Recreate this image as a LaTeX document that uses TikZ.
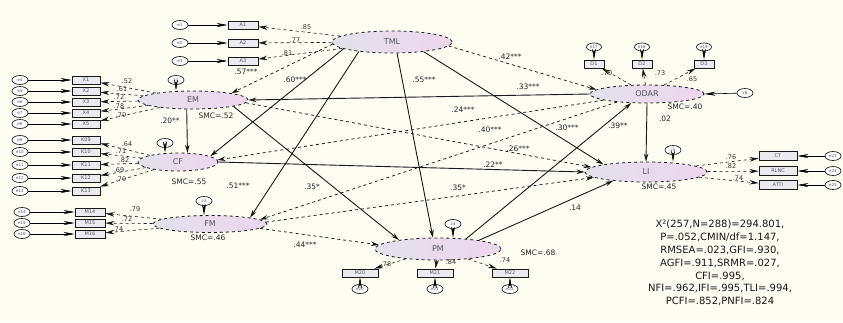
\documentclass[tikz,border=0pt]{standalone}
\usepackage{fontspec}
\setmainfont{DejaVu Sans}
\usetikzlibrary{shapes.geometric,arrows.meta}
\definecolor{bgc}{HTML}{FDFDF2}
\definecolor{latL}{HTML}{E2E2EA}
\definecolor{latR}{HTML}{EFD5EF}
\definecolor{obsF}{HTML}{EAEAF0}
\definecolor{txtg}{HTML}{555560}
\begin{document}
\begin{tikzpicture}[x=1pt,y=-1pt,
  lat/.style={ellipse, draw=black!90, dashed, line width=0.8pt, left color=latL, right color=latR, inner sep=0pt, font=\fontsize{8}{8}\selectfont, text=txtg},
  obs/.style={rectangle, draw=black!90, line width=0.8pt, fill=obsF, minimum height=8pt, inner sep=0.5pt, font=\fontsize{5}{5}\selectfont, text=txtg},
  errc/.style={ellipse, draw=black!85, line width=0.7pt, fill=white, minimum width=16pt, minimum height=9pt, inner sep=0pt, font=\fontsize{4}{4}\selectfont, text=txtg},
  earr/.style={-{Stealth[length=11pt,width=4pt]}, line width=0.6pt, black},
  ldarr/.style={-{Stealth[length=9pt,width=4.5pt]}, line width=0.6pt, dashed, black!90},
  sarr/.style={-{Stealth[length=8pt,width=4.5pt]}, line width=0.9pt, black!90},
  sdarr/.style={sarr, dashed, line width=0.75pt},
  lab/.style={font=\fontsize{7.5}{7.5}\selectfont, text=black!85, inner sep=0pt},
  ld/.style={font=\fontsize{6.5}{6.5}\selectfont, text=black!80, inner sep=0pt},
]
\fill[bgc] (0,0) rectangle (843,322);
\useasboundingbox (0,0) rectangle (843,322);

% latent variables
\node[lat, minimum width=120pt, minimum height=22pt] (TML) at (392,42) {TML};
\node[lat, minimum width=110pt, minimum height=18pt] (EM) at (193,100) {EM};
\node[lat, minimum width=80pt, minimum height=18pt] (CF) at (178,162) {CF};
\node[lat, minimum width=114pt, minimum height=17pt] (FM) at (210,224) {FM};
\node[lat, minimum width=126pt, minimum height=22pt] (PM) at (438,249) {PM};
\node[lat, minimum width=114pt, minimum height=18pt] (ODAR) at (647,94) {ODAR};
\node[lat, minimum width=122pt, minimum height=20pt] (LI) at (646,172) {LI};

% TML indicators
\foreach \i/\y/\t in {1/25/A1,2/43/A2,3/61/A3}{
  \node[obs, minimum width=30pt] (a\i) at (243,\y) {\t};
  \node[errc] (ea\i) at (180,\y) {e\i};
  \draw[earr] (ea\i) -- (a\i);
  \draw[ldarr] (TML) -- (a\i);
}
\node[ld] at (306,27) {.85};
\node[ld] at (295,40) {.77};
\node[ld] at (287,53) {.81};

% EM indicators
\foreach \i/\y/\t/\e in {1/80/X1/4,2/91/X2/5,3/102/X3/6,4/113/X4/7,5/124/X5/8}{
  \node[obs, minimum width=28pt] (em\i) at (86,\y) {\t};
  \node[errc] (eem\i) at (20,\y) {e\e};
  \draw[earr] (eem\i) -- (em\i);
  \draw[ldarr] (EM) -- (em\i);
}
\node[ld] at (127,81) {.52};
\node[ld] at (122,89) {.61};
\node[ld] at (119,97) {.72};
\node[ld] at (119,106) {.78};
\node[ld] at (121,115) {.70};

% CF indicators
\foreach \i/\y/\t/\e in {1/140/K09/9,2/152/K10/10,3/165/K11/11,4/178/K12/12,5/191/K13/13}{
  \node[obs, minimum width=28pt] (cf\i) at (86,\y) {\t};
  \node[errc] (ecf\i) at (20,\y) {e\e};
  \draw[earr] (ecf\i) -- (cf\i);
  \draw[ldarr] (CF) -- (cf\i);
}
\node[ld] at (127,144) {.64};
\node[ld] at (121,151) {.71};
\node[ld] at (124,160) {.82};
\node[ld] at (119,170) {.69};
\node[ld] at (121,179) {.70};

% FM indicators
\foreach \i/\y/\t/\e in {1/212/M14/14,2/223/M15/15,3/234/M16/16}{
  \node[obs, minimum width=30pt] (fm\i) at (90,\y) {\t};
  \node[errc] (efm\i) at (22,\y) {e\e};
  \draw[earr] (efm\i) -- (fm\i);
  \draw[ldarr] (FM) -- (fm\i);
}
\node[ld] at (135,209) {.79};
\node[ld] at (127,219) {.72};
\node[ld] at (118,229) {.74};

% ODAR indicators
\foreach \i/\x/\t/\e in {1/594/D1/17,2/642/D2/18,3/704/D3/19}{
  \node[obs, minimum width=20pt] (od\i) at (\x,64) {\t};
  \node[errc, minimum width=15pt, minimum height=8pt] (eod\i) at (\x,47) {e\e};
  \draw[earr] (eod\i) -- (od\i);
  \draw[ldarr] (ODAR) -- (od\i);
}
\node[ld] at (607,73) {.70};
\node[ld] at (660,73) {.73};
\node[ld] at (692,79) {.65};

% PM indicators
\foreach \i/\x/\t/\e in {1/360/M20/20,2/435/M21/21,3/510/M22/22}{
  \node[obs, minimum width=36pt] (pm\i) at (\x,273) {\t};
  \node[errc] (epm\i) at (\x,289) {e\e};
  \draw[earr] (epm\i) -- (pm\i);
  \draw[ldarr] (PM) -- (pm\i);
}
\node[ld] at (386,264) {.78};
\node[ld] at (451,262) {.84};
\node[ld] at (505,260) {.74};

% LI indicators
\foreach \i/\y/\t/\e in {1/156/CT/23,2/171/RLNC/24,3/185/ATTI/25}{
  \node[obs, minimum width=38pt, minimum height=9pt] (li\i) at (778,\y) {\t};
  \node[errc] (eli\i) at (833,\y) {e\e};
  \draw[earr] (eli\i) -- (li\i);
  \draw[ldarr] (LI) -- (li\i);
}
\node[ld] at (731,157) {.76};
\node[ld] at (731,166) {.82};
\node[ld] at (738,178) {.74};

% disturbances
\node[errc] (zEM) at (176,80) {z1};
\node[errc] (zCF) at (165,143) {z2};
\node[errc] (zFM) at (204,201) {z3};
\node[errc] (zPM) at (453,224) {z4};
\node[errc] (zLI) at (673,150) {z5};
\node[errc] (zOD) at (745,93) {z6};
\draw[earr] (zEM) -- (zEM |- EM.north);
\draw[earr] (zCF) -- (zCF |- CF.north);
\draw[earr] (zFM) -- (zFM |- FM.north);
\draw[earr] (zPM) -- (zPM |- PM.north);
\draw[earr] (zLI) -- (zLI |- LI.north);
\draw[earr] (zOD) -- (ODAR.east);

% structural paths
\draw[sdarr] (TML.182) -- (EM.10);
\draw[sarr] (TML.188) -- (CF.10);
\draw[sarr] (TML.-164) -- (FM.9);
\draw[sarr] (TML.-66) -- (PM.114);
\draw[sarr] (TML.-17) -- (LI.170);
\draw[sdarr] (TML.-4) -- (ODAR.175);
\draw[sarr] (ODAR.180) -- (EM.0);
\draw[sdarr] (ODAR.188) -- (CF.3);
\draw[sdarr] (ODAR.195) -- (FM.5);
\draw[sarr] (EM.-124) -- (CF.44);
\draw[sarr] (EM.-9) -- (PM.167);
\draw[sdarr] (EM.-3) -- (LI.175);
\draw[sarr] (CF.0) -- (LI.180);
\draw[sdarr] (FM.-5) -- (PM.176);
\draw[sdarr] (FM.2) -- (LI.186);
\draw[sarr] (PM.12) -- (LI.195);
\draw[sarr] (PM.20) -- (ODAR.-150);
\draw[sarr] (ODAR.south) -- (LI.north);

% path labels
\node[lab] at (246,72) {.57***};
\node[lab] at (295,80) {.60***};
\node[lab] at (238,186) {.51***};
\node[lab] at (424,80) {.55***};
\node[lab] at (510,57) {.42***};
\node[lab] at (528,87) {.33***};
\node[lab] at (463,110) {.24***};
\node[lab] at (490,130) {.40***};
\node[lab] at (567,128) {.30***};
\node[lab] at (518,149) {.26***};
\node[lab] at (493,165) {.22**};
\node[lab] at (458,188) {.35*};
\node[lab] at (312,187) {.35*};
\node[lab] at (305,245) {.44***};
\node[lab] at (575,208) {.14};
\node[lab] at (618,126) {.39**};
\node[lab] at (665,119) {.02};
\node[lab] at (170,121) {.20**};

% SMC labels
\node[lab] at (216,116) {SMC=.52};
\node[lab] at (189,182) {SMC=.55};
\node[lab] at (208,238) {SMC=.46};
\node[lab] at (538,253) {SMC=.68};
\node[lab] at (685,107) {SMC=.40};
\node[lab] at (659,187) {SMC=.45};

% fit indices
\node[align=center, font=\fontsize{10}{12.8}\selectfont, text=black!90, inner sep=0pt] (fit) at (720,263)
 {X²(257,N=288)=294.801,\\P=.052,CMIN/df=1.147,\\RMSEA=.023,GFI=.930,\\AGFI=.911,SRMR=.027,\\CFI=.995,\\NFI=.962,IFI=.995,TLI=.994,\\PCFI=.852,PNFI=.824};
\end{tikzpicture}
\end{document}
